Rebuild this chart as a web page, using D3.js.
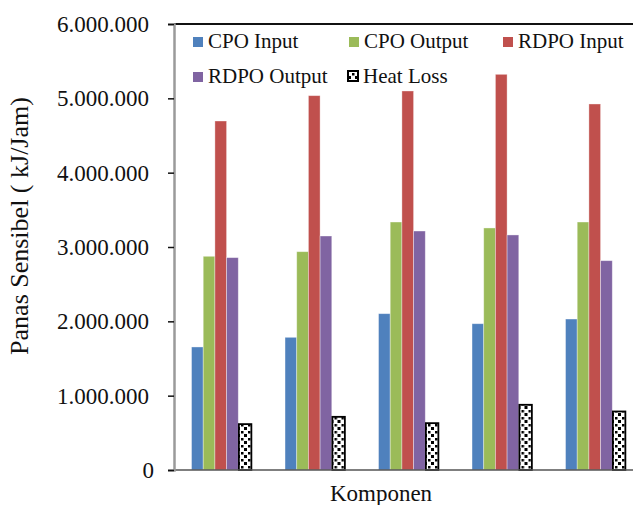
<!DOCTYPE html>
<html>
<head>
<meta charset="utf-8">
<script src="https://cdn.jsdelivr.net/npm/d3@7"></script>
<style>
  html, body { margin: 0; padding: 0; background: #fff; }
  svg text { font-family: 'Liberation Serif', 'Times New Roman', serif; }
</style>
</head>
<body>
<svg id="chart" width="637" height="505"></svg>
<script>
// ---- data ----
const categories = ["1", "2", "3", "4", "5"];
const seriesNames = ["CPO Input", "CPO Output", "RDPO Input", "RDPO Output", "Heat Loss"];
const cpoInput   = [1655000, 1785000, 2103000, 1968000, 2031000];
const cpoOutput  = [2875000, 2937000, 3336000, 3256000, 3336000];
const rdpoInput  = [4695000, 5036000, 5099000, 5323000, 4924000];
const rdpoOutput = [2857000, 3148000, 3215000, 3162000, 2816000];
const heatLoss   = [628000, 726000, 641000, 888000, 798000];
const yTicks = [0, 1000000, 2000000, 3000000, 4000000, 5000000, 6000000];
const yTickLabels = ["0", "1.000.000", "2.000.000", "3.000.000", "4.000.000", "5.000.000", "6.000.000"];
const yTitle = "Panas Sensibel ( kJ/Jam)";
const xTitle = "Komponen";

const seriesValues = [cpoInput, cpoOutput, rdpoInput, rdpoOutput, heatLoss];
const colors = ["#4F81BD", "#9BBB59", "#C0504D", "#8064A2", "url(#checker)"];

// ---- layout ----
const svg = d3.select("#chart");
const mLeft = 174, mRight = 641.5, mTop = 24, mBottom = 470, frameRight = 633;
const serif = "'Liberation Serif', 'Times New Roman', serif";

const defs = svg.append("defs");
const pat = defs.append("pattern").attr("id", "checker").attr("patternUnits", "userSpaceOnUse")
  .attr("width", 7).attr("height", 7);
pat.append("rect").attr("width", 7).attr("height", 7).attr("fill", "#fff");
pat.append("rect").attr("x", 0).attr("y", 0).attr("width", 3).attr("height", 3).attr("fill", "#000");
pat.append("rect").attr("x", 4).attr("y", 4).attr("width", 2.5).attr("height", 2.5).attr("fill", "#000");

const y = d3.scaleLinear().domain([0, 6000000]).range([mBottom, mTop]);
const x0 = d3.scaleBand().domain(categories).range([mLeft, mRight]).padding(0);
const x1 = d3.scaleBand().domain(seriesNames).range([0, x0.bandwidth()]).paddingInner(0).paddingOuter(1.5);

// frame top line
svg.append("line").attr("x1", mLeft).attr("x2", frameRight).attr("y1", mTop).attr("y2", mTop)
  .attr("stroke", "#111").attr("stroke-width", 2);

// bars
const groups = svg.append("g").selectAll("g").data(categories).join("g")
  .attr("transform", d => `translate(${x0(d)},0)`);
groups.selectAll("rect")
  .data((c, ci) => seriesNames.map((s, si) => ({ s, si, v: seriesValues[si][ci] })))
  .join("rect")
  .attr("x", d => x1(d.s) + (d.si === 4 ? 0.6 : 0))
  .attr("y", d => y(d.v) + (d.si === 4 ? 0.8 : 0))
  .attr("width", d => x1.bandwidth() + (d.si === 4 ? 0.8 : 0))
  .attr("height", d => mBottom - y(d.v) - (d.si === 4 ? 0.8 : 0))
  .attr("fill", d => colors[d.si])
  .attr("stroke", d => d.si === 4 ? "#000" : "rgba(255,255,255,0.45)")
  .attr("stroke-width", d => d.si === 4 ? 1.8 : 0.8);

// x axis line
svg.append("line").attr("x1", mLeft).attr("x2", frameRight).attr("y1", mBottom).attr("y2", mBottom)
  .attr("stroke", "#555").attr("stroke-width", 1.5);

// y axis
const yAxis = d3.axisLeft(y).tickValues(yTicks).tickSize(6).tickPadding(19)
  .tickFormat((d, i) => yTickLabels[i]);
const ya = svg.append("g").attr("transform", `translate(${mLeft},0)`).call(yAxis)
  .attr("font-family", serif);
ya.select(".domain").attr("stroke", "#9a9a9a").attr("stroke-width", 2.5);
ya.selectAll(".tick line").attr("stroke", "#111").attr("stroke-width", 1.5);
ya.selectAll(".tick text").attr("font-family", serif).attr("font-size", 23)
  .attr("fill", "#111").attr("dy", "0.33em")
  .attr("dx", d => d === 0 ? 5 : 0);

// titles
svg.append("text").attr("transform", "translate(28,226) rotate(-90)").attr("text-anchor", "middle")
  .attr("font-family", serif).attr("font-size", 26).attr("fill", "#111").text(yTitle);
svg.append("text").attr("x", 381).attr("y", 501).attr("text-anchor", "middle")
  .attr("font-family", serif).attr("font-size", 23).attr("fill", "#111").text(xTitle);

// legend
const legendPos = [[193, 48], [349, 48], [503, 48], [193, 83], [348, 83]];
const lg = svg.append("g").selectAll("g").data(seriesNames).join("g")
  .attr("transform", (d, i) => `translate(${legendPos[i][0]},${legendPos[i][1]})`);
lg.append("rect")
  .attr("x", 0)
  .attr("y", (d, i) => i === 4 ? -12 : -11)
  .attr("width", 10)
  .attr("height", 10)
  .attr("fill", (d, i) => colors[i])
  .attr("stroke", (d, i) => i === 4 ? "#000" : "none")
  .attr("stroke-width", 2);
lg.append("text").attr("x", 15).attr("y", 0)
  .attr("font-family", serif).attr("font-size", 21).attr("fill", "#111").text(d => d);
</script>
</body>
</html>
